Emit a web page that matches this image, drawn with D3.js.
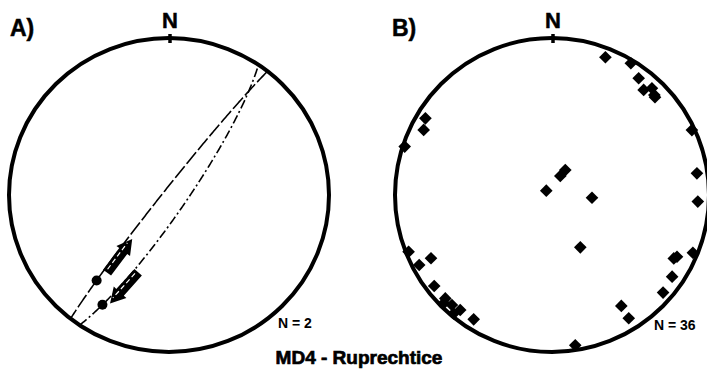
<!DOCTYPE html>
<html>
<head>
<meta charset="utf-8">
<script src="https://cdn.jsdelivr.net/npm/d3@7"></script>
<style>
  html, body { margin: 0; padding: 0; background: #fff; }
  svg { display: block; }
  text { font-family: "Liberation Sans", Arial, sans-serif; font-weight: bold; fill: #000; }
</style>
</head>
<body>
<svg id="chart" width="707" height="370"></svg>
<script>
// ---- Panel A: fault planes (dip direction / dip) with slip lineations ----
const faultDipDir    = [308, 124];
const faultDip       = [87, 81];
const lineationPitch = [150, 20];     // pitch of striation, measured from the strike end at dipDir + 90
const arrowPitch     = [131, 36];     // where the slip-sense arrow sits on the plane
const slipSense      = [-1, -1];      // +1 = toward increasing pitch, -1 = toward decreasing
const arrowSide      = [-4, 4];       // arrow offset to the side of its trace
const faultDash      = ["15,3", "9,3,2,3"];
const countA = "N = 2";

// ---- Panel B: lineations (trend / plunge) ----
const trendB  = [21.2, 30.9, 36.6, 41.1, 43.1, 45.7, 301.2, 296.9, 288.2, 65.1,
                 81.5, 92.6, 28.1, 23.6, 307, 93.9, 151.6, 248.4, 242.4, 242.2,
                 232.3, 225.9, 222.3, 218.6, 219.7, 212.2, 112.3, 116.3, 117.5, 124.2,
                 131.3, 148.0, 148.1, 171.2, 225.0, 46.5];
const plungeB = [6.6, 2.5, 8.2, 12.2, 7.6, 9.8, 6.4, 9.2, 1.4, 2.0,
                 7.4, 7.8, 75.4, 79.3, 86.3, 69.2, 58.9, 2.0, 14.1, 4.9,
                 5.8, 6.0, 5.9, 7.0, 2.2, 7.1, 3.4, 12.2, 13.6, 8.3,
                 6.5, 17.8, 8.3, 3.6, 3.0, 10.5];
const countB = "N = 36";

const panelLabels = ["A)", "B)"];
const title = "MD4 - Ruprechtice";

const svg = d3.select("#chart");
const rad = Math.PI / 180;

// lower-hemisphere equal-area projection of a unit vector [E, N, Down]
function project(v) {
  const r = Math.sqrt(Math.max(0, 1 - v[2]));
  const h = Math.hypot(v[0], v[1]);
  return h === 0 ? [0, 0] : [r * v[0] / h, r * v[1] / h];
}
function lineVec(trend, plunge) {
  return [Math.cos(plunge * rad) * Math.sin(trend * rad),
          Math.cos(plunge * rad) * Math.cos(trend * rad),
          Math.sin(plunge * rad)];
}
function planeVec(dd, dip, pitch) {
  const a = (dd + 90) * rad;
  const s = [Math.sin(a), Math.cos(a), 0];
  const d = [Math.sin(dd * rad) * Math.cos(dip * rad), Math.cos(dd * rad) * Math.cos(dip * rad), Math.sin(dip * rad)];
  const c = Math.cos(pitch * rad), n = Math.sin(pitch * rad);
  return [c * s[0] + n * d[0], c * s[1] + n * d[1], c * s[2] + n * d[2]];
}

function makeNet(cx, cy, rx, ry) {
  const x = d3.scaleLinear().domain([-1, 1]).range([cx - rx, cx + rx]);
  const y = d3.scaleLinear().domain([-1, 1]).range([cy + ry, cy - ry]);
  const g = svg.append("g");
  g.append("ellipse").attr("cx", x(0)).attr("cy", y(0)).attr("rx", rx).attr("ry", ry)
    .attr("fill", "none").attr("stroke", "#000").attr("stroke-width", 4);
  g.append("line").attr("x1", x(0) + 1).attr("x2", x(0) + 1).attr("y1", y(1) - 4).attr("y2", y(1) + 5)
    .attr("stroke", "#000").attr("stroke-width", 3.5);
  g.append("text").attr("x", x(0) + 1).attr("y", y(1) - 10).attr("text-anchor", "middle")
    .attr("font-size", 22).attr("stroke", "#000").attr("stroke-width", 0.5).text("N");
  return { g, x, y };
}

// ---------------- Panel A ----------------
const A = makeNet(169, 195, 160, 157);
const lineGen = d3.line().x(p => A.x(p[0])).y(p => A.y(p[1]));

faultDip.forEach((dip, i) => {
  const dd = faultDipDir[i];
  const pts = d3.range(0, 180.01, 1).map(ph => project(planeVec(dd, dip, ph)));
  A.g.append("path").attr("d", lineGen(pts)).attr("fill", "none")
    .attr("stroke", "#000").attr("stroke-width", 1.6).attr("stroke-dasharray", faultDash[i]);

  // slip-sense arrow along the trace
  const p0 = project(planeVec(dd, dip, arrowPitch[i]));
  const p1 = project(planeVec(dd, dip, arrowPitch[i] + slipSense[i]));
  const X0 = A.x(p0[0]), Y0 = A.y(p0[1]);
  const ang = Math.atan2(A.y(p1[1]) - Y0, A.x(p1[0]) - X0) * 180 / Math.PI;
  const off = arrowSide[i] * slipSense[i];
  const L = 42, hw = 8.5, sw = 5, hl = 15;
  const shape = [[-L / 2, -sw], [L / 2 - hl, -sw], [L / 2 - hl, -hw], [L / 2, 0],
                 [L / 2 - hl, hw], [L / 2 - hl, sw], [-L / 2, sw]];
  const tr = `translate(${X0},${Y0}) rotate(${ang}) translate(0,${off})`;
  A.g.append("polygon").attr("points", shape.map(d => d.join(",")).join(" "))
    .attr("transform", tr).attr("fill", "#000");
  A.g.append("line").attr("x1", -L / 2 + 3).attr("x2", L / 2 - 6).attr("y1", -off * 0.4).attr("y2", -off * 0.4)
    .attr("transform", tr)
    .attr("stroke", "#fff").attr("stroke-width", 1.2).attr("stroke-dasharray", "5,3");

  // striation point
  const q = project(planeVec(dd, dip, lineationPitch[i]));
  A.g.append("circle").attr("cx", A.x(q[0])).attr("cy", A.y(q[1])).attr("r", 5).attr("fill", "#000");
});

A.g.append("text").attr("x", 278).attr("y", 328).attr("font-size", 14).text(countA);

// ---------------- Panel B ----------------
const B = makeNet(552, 195, 157, 157);
trendB.forEach((t, i) => {
  const p = project(lineVec(t, plungeB[i]));
  B.g.append("path").attr("d", d3.symbol().type(d3.symbolSquare).size(80)())
    .attr("transform", `translate(${B.x(p[0])},${B.y(p[1])}) rotate(45)`).attr("fill", "#000");
});
B.g.append("text").attr("x", 654).attr("y", 330).attr("font-size", 14).text(countB);

// labels & title
svg.append("text").attr("x", 10).attr("y", 36).attr("font-size", 23)
  .attr("stroke", "#000").attr("stroke-width", 0.5).text(panelLabels[0]);
svg.append("text").attr("x", 392).attr("y", 36).attr("font-size", 23)
  .attr("stroke", "#000").attr("stroke-width", 0.5).text(panelLabels[1]);
svg.append("text").attr("x", 359).attr("y", 364).attr("text-anchor", "middle")
  .attr("font-size", 19).attr("stroke", "#000").attr("stroke-width", 0.7).text(title);
</script>
</body>
</html>
